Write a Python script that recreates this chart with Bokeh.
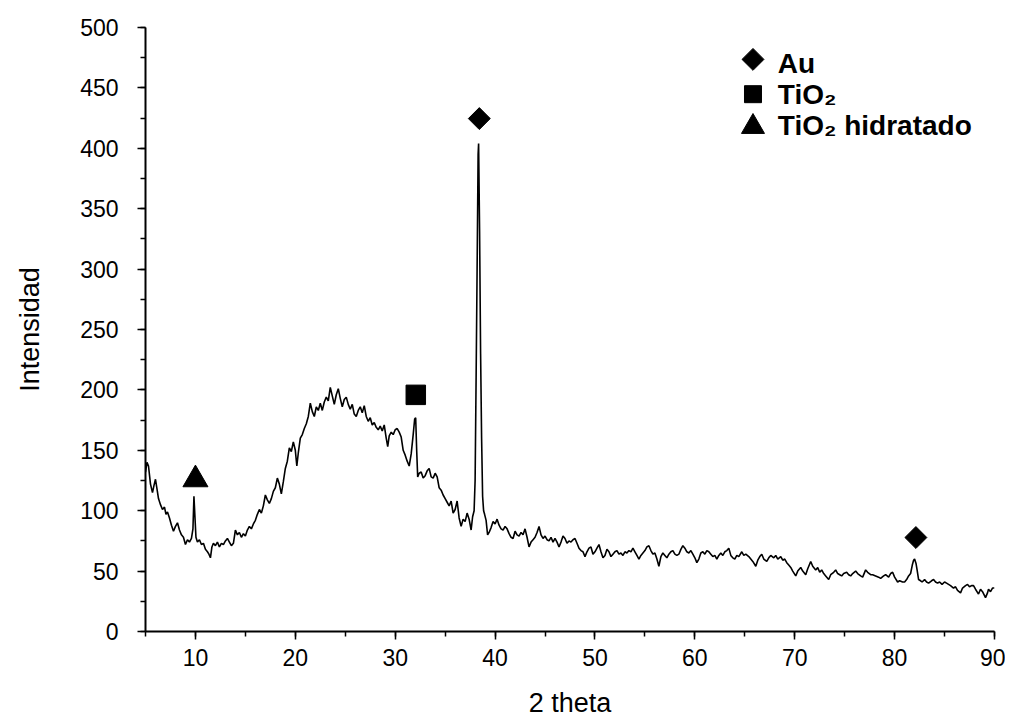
from bokeh.plotting import figure
from bokeh.models import Range1d, SingleIntervalTicker
from bokeh.core.properties import value
from bokeh.embed import file_html
from bokeh.resources import INLINE

# ---- data ----
two_theta = [5.0, 5.15, 5.3, 5.5, 5.7, 5.85, 6.0, 6.15, 6.3, 6.5, 6.7, 6.9, 7.05, 7.2, 7.4, 7.6, 7.8, 8.0, 8.2, 8.4,
             8.6, 8.8, 9.0, 9.2, 9.4, 9.6, 9.75, 9.85, 9.95, 10.05, 10.2, 10.4, 10.6, 10.8, 11.0, 11.2, 11.35, 11.5, 11.65, 11.8,
             12.0, 12.2, 12.4, 12.6, 12.8, 13.0, 13.2, 13.4, 13.6, 13.8, 14.0, 14.2, 14.4, 14.6, 14.8, 15.0, 15.2, 15.4, 15.6, 15.8,
             16.0, 16.2, 16.4, 16.6, 16.8, 17.0, 17.2, 17.4, 17.6, 17.8, 18.0, 18.2, 18.4, 18.6, 18.8, 19.0, 19.2, 19.4, 19.6, 19.8,
             20.0, 20.15, 20.3, 20.5, 20.7, 20.9, 21.1, 21.3, 21.5, 21.7, 21.9, 22.1, 22.3, 22.5, 22.7, 22.9, 23.1, 23.3, 23.5, 23.7,
             23.9, 24.1, 24.3, 24.5, 24.7, 24.9, 25.1, 25.3, 25.5, 25.7, 25.9, 26.1, 26.3, 26.5, 26.7, 26.9, 27.1, 27.3, 27.5, 27.7,
             27.9, 28.1, 28.3, 28.5, 28.7, 28.9, 29.1, 29.25, 29.4, 29.6, 29.8, 30.0, 30.2, 30.4, 30.6, 30.8, 31.0, 31.2, 31.4, 31.6,
             31.8, 31.95, 32.05, 32.15, 32.25, 32.4, 32.6, 32.8, 33.0, 33.2, 33.4, 33.6, 33.8, 34.0, 34.2, 34.4, 34.6, 34.8, 35.0, 35.2,
             35.4, 35.6, 35.8, 36.0, 36.2, 36.4, 36.6, 36.8, 37.0, 37.2, 37.4, 37.6, 37.75, 37.9, 38.0, 38.1, 38.2, 38.3, 38.35, 38.45,
             38.55, 38.65, 38.75, 38.85, 38.95, 39.1, 39.25, 39.4, 39.6, 39.8, 40.0, 40.2, 40.4, 40.6, 40.8, 41.0, 41.2, 41.4, 41.6, 41.8,
             42.0, 42.2, 42.4, 42.6, 42.8, 43.0, 43.2, 43.4, 43.6, 43.8, 44.0, 44.2, 44.4, 44.6, 44.8, 45.0, 45.2, 45.4, 45.6, 45.8,
             46.0, 46.2, 46.4, 46.6, 46.8, 47.0, 47.2, 47.4, 47.6, 47.8, 48.0, 48.2, 48.4, 48.6, 48.8, 49.0, 49.2, 49.4, 49.6, 49.8,
             50.0, 50.2, 50.4, 50.6, 50.8, 51.0, 51.2, 51.4, 51.6, 51.8, 52.0, 52.2, 52.4, 52.6, 52.8, 53.0, 53.2, 53.4, 53.6, 53.8,
             54.0, 54.2, 54.4, 54.6, 54.8, 55.0, 55.2, 55.4, 55.6, 55.8, 56.0, 56.2, 56.4, 56.6, 56.8, 57.0, 57.2, 57.4, 57.6, 57.8,
             58.0, 58.2, 58.4, 58.6, 58.8, 59.0, 59.2, 59.4, 59.6, 59.8, 60.0, 60.2, 60.4, 60.6, 60.8, 61.0, 61.2, 61.4, 61.6, 61.8,
             62.0, 62.2, 62.4, 62.6, 62.8, 63.0, 63.2, 63.4, 63.6, 63.8, 64.0, 64.2, 64.4, 64.7, 64.9, 65.1, 65.4, 65.6, 65.8, 66.1,
             66.3, 66.5, 66.7, 66.9, 67.2, 67.4, 67.6, 67.9, 68.1, 68.3, 68.6, 68.8, 69.0, 69.2, 69.4, 69.6, 69.8, 70.1, 70.3, 70.6,
             70.8, 71.1, 71.3, 71.6, 71.8, 72.1, 72.3, 72.5, 72.7, 72.9, 73.1, 73.4, 73.6, 73.9, 74.1, 74.3, 74.5, 74.7, 74.9, 75.2,
             75.4, 75.6, 75.8, 76.1, 76.3, 76.6, 76.8, 77.1, 77.3, 77.6, 77.8, 78.1, 78.4, 78.6, 78.9, 79.1, 79.4, 79.6, 79.8, 80.0,
             80.3, 80.5, 80.8, 81.0, 81.2, 81.4, 81.6, 81.77, 81.9, 82.0, 82.15, 82.25, 82.4, 82.6, 82.75, 83.0, 83.2, 83.4, 83.7, 83.9,
             84.1, 84.3, 84.5, 84.75, 85.0, 85.2, 85.4, 85.6, 85.9, 86.1, 86.3, 86.6, 86.8, 87.1, 87.3, 87.5, 87.7, 87.9, 88.1, 88.4,
             88.6, 88.8, 89.1, 89.3, 89.4, 89.6, 89.8, 90.0]
intensity = [132, 140, 137, 122, 115, 121, 126, 118, 110, 105, 101, 103, 97, 99, 94, 88, 83, 87, 90, 84,
             80, 78, 72, 76, 74, 77, 85, 112, 95, 78, 74, 76, 72, 73, 68, 66, 64, 61, 70, 73,
             71, 74, 70, 73, 72, 75, 77, 74, 71, 73, 84, 80, 82, 78, 81, 79, 84, 87, 85, 89,
             92, 97, 101, 98, 104, 113, 109, 106, 110, 116, 119, 127, 122, 114, 124, 135, 141, 152, 149, 157,
             150, 137, 148, 160, 163, 168, 172, 178, 189, 182, 178, 186, 183, 189, 183, 190, 194, 191, 202, 195,
             188, 196, 201, 193, 186, 192, 194, 188, 184, 188, 180, 178, 183, 186, 181, 187, 178, 174, 177, 171,
             173, 169, 167, 170, 166, 171, 160, 153, 162, 165, 163, 167, 168, 165, 161, 150, 146, 141, 137, 147,
             163, 176, 177, 150, 128, 131, 132, 127, 129, 133, 135, 128, 127, 131, 128, 119, 117, 113, 110, 107,
             104, 108, 98, 101, 108, 94, 87, 93, 91, 98, 93, 84, 95, 100, 125, 210, 300, 395, 404, 330,
             230, 160, 112, 100, 97, 92, 80, 82, 86, 91, 89, 93, 88, 85, 84, 87, 85, 81, 78, 77,
             83, 80, 79, 82, 80, 85, 78, 70, 74, 76, 78, 82, 87, 80, 77, 79, 76, 75, 78, 74,
             77, 74, 70, 74, 79, 77, 73, 75, 74, 76, 77, 73, 69, 67, 66, 62, 66, 69, 70, 64,
             66, 69, 72, 66, 61, 63, 68, 66, 62, 64, 66, 67, 64, 65, 63, 66, 65, 67, 66, 69,
             66, 63, 60, 63, 65, 67, 70, 71, 67, 64, 65, 60, 54, 62, 65, 63, 61, 64, 66, 67,
             64, 63, 64, 68, 71, 69, 66, 65, 67, 64, 61, 57, 60, 65, 66, 64, 67, 66, 64, 62,
             63, 60, 63, 65, 63, 66, 67, 69, 63, 61, 60, 63, 62, 66, 63, 64, 62, 60, 58, 54,
             59, 62, 64, 60, 58, 61, 63, 61, 63, 60, 62, 59, 60, 57, 55, 53, 50, 46, 50, 53,
             50, 47, 52, 58, 54, 51, 53, 49, 51, 48, 46, 43, 47, 49, 51, 48, 47, 46, 48, 49,
             47, 46, 48, 50, 48, 46, 45, 51, 49, 47, 47, 46, 45, 44, 46, 47, 45, 48, 49, 45,
             41, 42, 41, 41, 43, 46, 48, 55, 59, 60, 56, 51, 43, 42, 41, 43, 41, 40, 42, 43,
             41, 40, 41, 39, 41, 40, 39, 38, 36, 37, 34, 32, 36, 38, 39, 37, 38, 38, 35, 31,
             35, 33, 28, 32, 35, 33, 36, 36]

# phase markers above the peaks
au_pos = [38.42, 82.13]
au_height = [424.6, 77.8]
tio2_pos = [32.06]
tio2_height = [195.9]
hyd_pos = [10.0]
hyd_height = [125.8]

legend_labels = ["Au", "TiO\u2082", "TiO\u2082 hidratado"]

p = figure(width=1005, height=720, output_backend="svg", toolbar_location=None,
           x_range=Range1d(5, 90), y_range=Range1d(0, 500),
           min_border_left=145, min_border_right=11, min_border_top=27, min_border_bottom=86)
p.outline_line_color = None
p.grid.visible = False
p.background_fill_color = "white"
p.border_fill_color = "white"

p.line(two_theta, intensity, line_color="black", line_width=1.6)

p.scatter(au_pos, au_height, marker="square", angle=0.785398, size=15.5, color="black")
p.scatter(tio2_pos, tio2_height, marker="square", size=19.5, color="black")
p.scatter(hyd_pos, hyd_height, marker="triangle", size=25, color="black")

# legend (drawn manually, top right)
lx = [65.82, 65.82, 65.82]
ly = [473.6, 444.8, 417.8]
p.scatter([lx[0]], [ly[0]], marker="square", angle=0.785398, size=15.5, color="black")
p.scatter([lx[1]], [ly[1]], marker="square", size=17, color="black")
p.scatter([lx[2]], [ly[2]], marker="triangle", size=23, color="black")
p.text(x=[68.31, 68.31, 68.31], y=[470.6, 444.2, 418.7], text=legend_labels,
       text_font=value("Liberation Sans"), text_font_style="bold", text_font_size="28px",
       text_baseline="alphabetic", text_align="left", text_color="black")

for ax in (p.xaxis[0], p.yaxis[0]):
    ax.axis_line_width = 2
    ax.axis_line_color = "black"
    ax.major_tick_line_width = 1.5
    ax.minor_tick_line_width = 1.5
    ax.major_tick_in = 0
    ax.minor_tick_in = 0
    ax.major_tick_out = 8
    ax.minor_tick_out = 5
    ax.major_label_text_font = "Liberation Sans"
    ax.major_label_text_font_size = "23px"
    ax.major_label_text_color = "black"
    ax.axis_label_text_font = "Liberation Sans"
    ax.axis_label_text_font_size = "27px"
    ax.axis_label_text_font_style = "normal"
    ax.axis_label_text_color = "black"

p.xaxis.ticker = SingleIntervalTicker(interval=10, num_minor_ticks=2)
p.yaxis.ticker = SingleIntervalTicker(interval=50, num_minor_ticks=2)
p.xaxis.axis_label = "2 theta"
p.yaxis.axis_label = "Intensidad"
p.xaxis.major_label_standoff = 9
p.yaxis.major_label_standoff = 19
p.xaxis.axis_label_standoff = 19
p.yaxis.axis_label_standoff = 32

open("out.html", "w").write(file_html(p, INLINE))
